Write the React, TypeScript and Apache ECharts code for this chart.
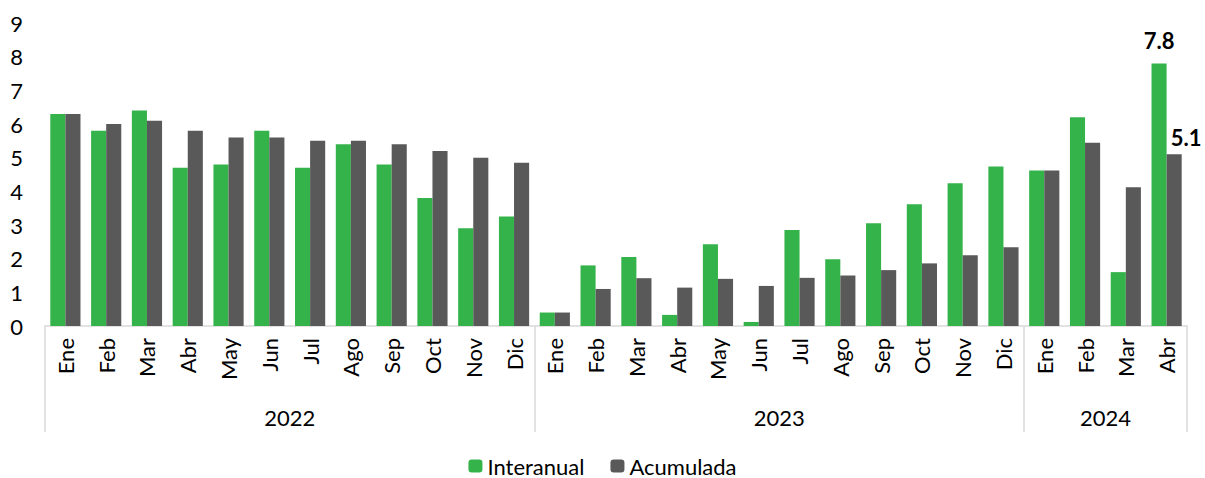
import React, { useEffect, useRef } from "react";
import * as echarts from "echarts";

const months = [
  "Ene", "Feb", "Mar", "Abr", "May", "Jun", "Jul", "Ago", "Sep", "Oct", "Nov", "Dic",
  "Ene", "Feb", "Mar", "Abr", "May", "Jun", "Jul", "Ago", "Sep", "Oct", "Nov", "Dic",
  "Ene", "Feb", "Mar", "Abr",
];
const years = ["2022", "2023", "2024"];
const yearSpans = [12, 12, 4];

const interanual = [
  6.3, 5.8, 6.4, 4.7, 4.8, 5.8, 4.7, 5.4, 4.8, 3.8, 2.9, 3.25,
  0.4, 1.8, 2.05, 0.33, 2.43, 0.12, 2.85, 1.98, 3.05, 3.62, 4.24, 4.74,
  4.62, 6.2, 1.6, 7.8,
];
const acumulada = [
  6.3, 6.0, 6.1, 5.8, 5.6, 5.6, 5.5, 5.5, 5.4, 5.2, 5.0, 4.85,
  0.4, 1.1, 1.42, 1.14, 1.4, 1.19, 1.43, 1.5, 1.66, 1.86, 2.1, 2.34,
  4.62, 5.44, 4.12, 5.1,
];

const GREEN = "#34b34a";
const GRAY = "#595959";
const FONT = "Lato";

export default function App() {
  const ref = useRef<HTMLDivElement>(null);

  useEffect(() => {
    document.body.style.margin = "0";
    if (!ref.current) return;
    const chart = echarts.init(ref.current, undefined, { renderer: "svg" });

    const boundaries: number[] = [];
    const centers: Record<number, string> = {};
    let acc = 0;
    yearSpans.forEach((s, i) => {
      boundaries.push(acc);
      centers[acc + s / 2] = years[i];
      acc += s;
    });
    const last = months.length - 1;

    const labelData = (arr: number[], offset: number[], distance: number) =>
      arr.map((v, i) =>
        i === last
          ? {
              value: v,
              label: {
                show: true,
                position: "top",
                distance,
                offset,
                formatter: (p: any) => p.value.toFixed(1),
                fontFamily: FONT,
                fontSize: 22,
                fontWeight: "bold",
                color: "#000",
              },
            }
          : v
      );

    chart.setOption({
      animation: false,
      textStyle: { fontFamily: FONT },
      grid: { left: 45, right: 18, top: 23, bottom: 152, containLabel: false, outerBoundsMode: "none" },
      legend: {
        bottom: -4,
        left: "center",
        itemWidth: 14,
        itemHeight: 13,
        itemGap: 26,
        textStyle: { fontFamily: FONT, fontSize: 22, color: "#000" },
        data: ["Interanual", "Acumulada"],
      },
      xAxis: [
        {
          type: "category",
          position: "bottom",
          data: months,
          axisLine: { lineStyle: { color: "#d9d9d9", width: 1.5 } },
          axisTick: { show: false },
          axisLabel: {
            rotate: 90,
            margin: 12,
            fontFamily: FONT,
            fontSize: 22,
            color: "#000",
            interval: 0,
          },
        },
        {
          type: "category",
          position: "bottom",
          data: months,
          axisLine: { show: false },
          axisLabel: { show: false },
          axisTick: {
            show: true,
            length: 106,
            interval: (i: number) => boundaries.indexOf(i) >= 0,
            lineStyle: { color: "#d9d9d9", width: 1.5 },
          },
        },
        {
          type: "value",
          position: "bottom",
          min: 0,
          max: months.length,
          interval: 1,
          axisLine: { show: false },
          axisTick: { show: false },
          splitLine: { show: false },
          axisLabel: {
            margin: 80,
            fontFamily: FONT,
            fontSize: 22,
            color: "#000",
            showMinLabel: true,
            showMaxLabel: true,
            formatter: (v: number) => centers[v] || "",
          },
        },
      ],
      yAxis: {
        type: "value",
        min: 0,
        max: 9,
        interval: 1,
        axisLine: { show: false },
        axisTick: { show: false },
        splitLine: { show: false },
        axisLabel: { margin: 22, fontFamily: FONT, fontSize: 22, color: "#000" },
      },
      series: [
        {
          name: "Interanual",
          type: "bar",
          xAxisIndex: 0,
          data: labelData(interanual, [0, 0], 12),
          itemStyle: { color: GREEN },
          barGap: "0%",
          barCategoryGap: "26%",
        },
        {
          name: "Acumulada",
          type: "bar",
          xAxisIndex: 0,
          data: labelData(acumulada, [12, 0], 6),
          itemStyle: { color: GRAY },
          barGap: "0%",
          barCategoryGap: "26%",
        },
      ],
    });

    return () => chart.dispose();
  }, []);

  return <div ref={ref} style={{ width: 1205, height: 478 }} />;
}
